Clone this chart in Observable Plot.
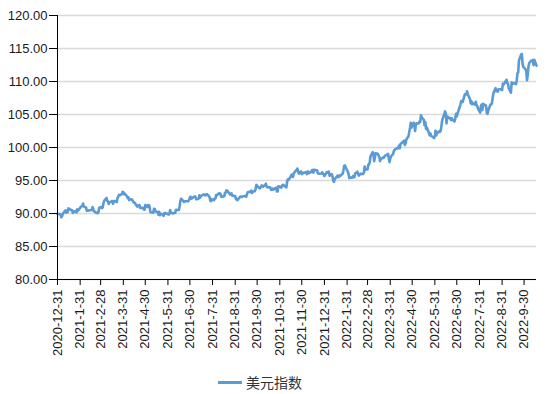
<!DOCTYPE html>
<html>
<head>
<meta charset="utf-8">
<script src="https://cdn.jsdelivr.net/npm/d3@7"></script>
<script src="https://cdn.jsdelivr.net/npm/@observablehq/plot@0.6"></script>
<style>
  html, body { margin: 0; padding: 0; background: #fff; }
  #wrap { position: relative; width: 550px; height: 394px; }
  #legend { position: absolute; left: 218px; top: 372px; height: 20px; display: flex; align-items: center;
    font-family: "Noto Sans CJK SC", sans-serif; font-size: 14px; color: #333; }
  #legend .sw { width: 24px; height: 3px; background: #5B9BD5; margin-right: 4px; }
</style>
</head>
<body>
<div id="wrap"><div id="chart"></div><div id="legend"><span class="sw"></span><span>美元指数</span></div></div>
<script>
const seriesName = "美元指数";
const yTicks = [80, 85, 90, 95, 100, 105, 110, 115, 120];
const xTickLabels = ["2020-12-31","2021-01-31","2021-02-28","2021-03-31","2021-04-30","2021-05-31","2021-06-30","2021-07-31","2021-08-31","2021-09-30","2021-10-31","2021-11-30","2021-12-31","2022-01-31","2022-02-28","2022-03-31","2022-04-30","2022-05-31","2022-06-30","2022-07-31","2022-08-31","2022-09-30"];
const xDomain = ["2020-12-31", "2022-10-17"];

const dates = [
"2020-12-31","2021-01-04","2021-01-05","2021-01-06","2021-01-07","2021-01-08","2021-01-11","2021-01-12","2021-01-13","2021-01-14","2021-01-15","2021-01-19","2021-01-20","2021-01-21","2021-01-22","2021-01-25","2021-01-26","2021-01-27","2021-01-28","2021-01-29",
"2021-02-01","2021-02-02","2021-02-03","2021-02-04","2021-02-05","2021-02-08","2021-02-09","2021-02-10","2021-02-11","2021-02-12","2021-02-16","2021-02-17","2021-02-18","2021-02-19","2021-02-22","2021-02-23","2021-02-24","2021-02-25","2021-02-26",
"2021-03-01","2021-03-02","2021-03-03","2021-03-04","2021-03-05","2021-03-08","2021-03-09","2021-03-10","2021-03-11","2021-03-12","2021-03-15","2021-03-16","2021-03-17","2021-03-18","2021-03-19","2021-03-22","2021-03-23","2021-03-24","2021-03-25","2021-03-26","2021-03-29","2021-03-30","2021-03-31",
"2021-04-01","2021-04-02","2021-04-05","2021-04-06","2021-04-07","2021-04-08","2021-04-09","2021-04-12","2021-04-13","2021-04-14","2021-04-15","2021-04-16","2021-04-19","2021-04-20","2021-04-21","2021-04-22","2021-04-23","2021-04-26","2021-04-27","2021-04-28","2021-04-29","2021-04-30",
"2021-05-03","2021-05-04","2021-05-05","2021-05-06","2021-05-07","2021-05-10","2021-05-11","2021-05-12","2021-05-13","2021-05-14","2021-05-17","2021-05-18","2021-05-19","2021-05-20","2021-05-21","2021-05-24","2021-05-25","2021-05-26","2021-05-27","2021-05-28",
"2021-06-01","2021-06-02","2021-06-03","2021-06-04","2021-06-07","2021-06-08","2021-06-09","2021-06-10","2021-06-11","2021-06-14","2021-06-15","2021-06-16","2021-06-17","2021-06-18","2021-06-21","2021-06-22","2021-06-23","2021-06-24","2021-06-25","2021-06-28","2021-06-29","2021-06-30",
"2021-07-01","2021-07-02","2021-07-06","2021-07-07","2021-07-08","2021-07-09","2021-07-12","2021-07-13","2021-07-14","2021-07-15","2021-07-16","2021-07-19","2021-07-20","2021-07-21","2021-07-22","2021-07-23","2021-07-26","2021-07-27","2021-07-28","2021-07-29","2021-07-30",
"2021-08-02","2021-08-03","2021-08-04","2021-08-05","2021-08-06","2021-08-09","2021-08-10","2021-08-11","2021-08-12","2021-08-13","2021-08-16","2021-08-17","2021-08-18","2021-08-19","2021-08-20","2021-08-23","2021-08-24","2021-08-25","2021-08-26","2021-08-27","2021-08-30","2021-08-31",
"2021-09-01","2021-09-02","2021-09-03","2021-09-07","2021-09-08","2021-09-09","2021-09-10","2021-09-13","2021-09-14","2021-09-15","2021-09-16","2021-09-17","2021-09-20","2021-09-21","2021-09-22","2021-09-23","2021-09-24","2021-09-27","2021-09-28","2021-09-29","2021-09-30",
"2021-10-01","2021-10-04","2021-10-05","2021-10-06","2021-10-07","2021-10-08","2021-10-11","2021-10-12","2021-10-13","2021-10-14","2021-10-15","2021-10-18","2021-10-19","2021-10-20","2021-10-21","2021-10-22","2021-10-25","2021-10-26","2021-10-27","2021-10-28","2021-10-29",
"2021-11-01","2021-11-02","2021-11-03","2021-11-04","2021-11-05","2021-11-08","2021-11-09","2021-11-10","2021-11-11","2021-11-12","2021-11-15","2021-11-16","2021-11-17","2021-11-18","2021-11-19","2021-11-22","2021-11-23","2021-11-24","2021-11-26","2021-11-29","2021-11-30",
"2021-12-01","2021-12-02","2021-12-03","2021-12-06","2021-12-07","2021-12-08","2021-12-09","2021-12-10","2021-12-13","2021-12-14","2021-12-15","2021-12-16","2021-12-17","2021-12-20","2021-12-21","2021-12-22","2021-12-23","2021-12-24","2021-12-27","2021-12-28","2021-12-29","2021-12-30","2021-12-31",
"2022-01-03","2022-01-04","2022-01-05","2022-01-06","2022-01-07","2022-01-10","2022-01-11","2022-01-12","2022-01-13","2022-01-14","2022-01-18","2022-01-19","2022-01-20","2022-01-21","2022-01-24","2022-01-25","2022-01-26","2022-01-27","2022-01-28","2022-01-31",
"2022-02-01","2022-02-02","2022-02-03","2022-02-04","2022-02-07","2022-02-08","2022-02-09","2022-02-10","2022-02-11","2022-02-14","2022-02-15","2022-02-16","2022-02-17","2022-02-18","2022-02-22","2022-02-23","2022-02-24","2022-02-25","2022-02-28",
"2022-03-01","2022-03-02","2022-03-03","2022-03-04","2022-03-07","2022-03-08","2022-03-09","2022-03-10","2022-03-11","2022-03-14","2022-03-15","2022-03-16","2022-03-17","2022-03-18","2022-03-21","2022-03-22","2022-03-23","2022-03-24","2022-03-25","2022-03-28","2022-03-29","2022-03-30","2022-03-31",
"2022-04-01","2022-04-04","2022-04-05","2022-04-06","2022-04-07","2022-04-08","2022-04-11","2022-04-12","2022-04-13","2022-04-14","2022-04-18","2022-04-19","2022-04-20","2022-04-21","2022-04-22","2022-04-25","2022-04-26","2022-04-27","2022-04-28","2022-04-29",
"2022-05-02","2022-05-03","2022-05-04","2022-05-05","2022-05-06","2022-05-09","2022-05-10","2022-05-11","2022-05-12","2022-05-13","2022-05-16","2022-05-17","2022-05-18","2022-05-19","2022-05-20","2022-05-23","2022-05-24","2022-05-25","2022-05-26","2022-05-27","2022-05-30","2022-05-31",
"2022-06-01","2022-06-02","2022-06-03","2022-06-06","2022-06-07","2022-06-08","2022-06-09","2022-06-10","2022-06-13","2022-06-14","2022-06-15","2022-06-16","2022-06-17","2022-06-20","2022-06-21","2022-06-22","2022-06-23","2022-06-24","2022-06-27","2022-06-28","2022-06-29","2022-06-30",
"2022-07-01","2022-07-05","2022-07-06","2022-07-07","2022-07-08","2022-07-11","2022-07-12","2022-07-13","2022-07-14","2022-07-15","2022-07-18","2022-07-19","2022-07-20","2022-07-21","2022-07-22","2022-07-25","2022-07-26","2022-07-27","2022-07-28","2022-07-29",
"2022-08-01","2022-08-02","2022-08-03","2022-08-04","2022-08-05","2022-08-08","2022-08-09","2022-08-10","2022-08-11","2022-08-12","2022-08-15","2022-08-16","2022-08-17","2022-08-18","2022-08-19","2022-08-22","2022-08-23","2022-08-24","2022-08-25","2022-08-26","2022-08-29","2022-08-30","2022-08-31",
"2022-09-01","2022-09-02","2022-09-06","2022-09-07","2022-09-08","2022-09-09","2022-09-12","2022-09-13","2022-09-14","2022-09-15","2022-09-16","2022-09-19","2022-09-20","2022-09-21","2022-09-22","2022-09-23","2022-09-26","2022-09-27","2022-09-28","2022-09-29","2022-09-30",
"2022-10-03","2022-10-04","2022-10-05","2022-10-06","2022-10-07","2022-10-10","2022-10-11","2022-10-12","2022-10-13","2022-10-14","2022-10-17"
];
const dxy = [
89.94,89.88,89.44,89.53,89.83,90.10,90.48,90.11,90.37,90.23,90.77,90.51,90.48,90.09,90.23,90.39,90.15,90.62,90.43,90.58,
91.01,91.09,91.12,91.52,91.04,90.93,90.43,90.42,90.42,90.48,90.52,90.96,90.61,90.36,90.09,90.14,90.05,90.18,90.88,
90.99,90.81,90.97,91.65,91.95,92.35,91.93,91.82,91.44,91.67,91.85,91.89,91.47,91.87,91.90,91.72,92.33,92.51,92.82,92.76,92.95,93.29,93.23,
92.92,93.02,92.61,92.33,92.46,92.03,92.17,92.13,91.87,91.69,91.69,91.56,91.05,91.19,91.14,91.29,90.85,90.86,90.83,90.61,90.58,91.28,
90.97,91.28,91.28,90.97,90.22,90.12,90.15,90.72,90.68,90.31,90.22,89.83,90.27,89.75,89.99,89.82,89.63,90.04,90.10,90.03,
89.85,89.91,90.52,90.14,90.01,90.08,90.09,90.09,90.56,90.52,90.53,91.10,91.89,92.23,91.91,91.76,91.81,91.84,91.85,91.88,92.08,92.44,
92.56,92.23,92.55,92.61,92.40,92.14,92.24,92.77,92.39,92.66,92.69,92.89,92.82,92.75,92.78,92.95,92.65,92.47,91.94,91.86,92.18,
92.02,92.28,92.27,92.80,92.78,93.06,93.07,92.94,92.53,92.53,92.62,93.14,93.15,93.50,93.47,93.04,92.85,92.99,93.06,92.69,92.67,92.63,
92.18,92.21,92.03,92.58,92.54,92.51,92.58,92.66,92.62,92.51,92.86,93.20,93.28,93.24,93.47,93.10,93.33,93.38,93.78,94.36,94.23,
94.04,93.81,94.03,94.23,94.22,94.07,94.31,94.51,94.08,93.96,94.00,93.94,93.60,93.57,93.76,93.63,93.84,93.93,93.35,93.33,94.12,
94.05,93.91,94.14,94.35,94.32,94.01,93.96,94.85,95.16,95.13,95.59,95.88,95.81,95.54,96.07,96.53,96.52,96.81,96.04,96.37,95.99,
96.02,96.15,96.15,96.28,95.97,96.34,96.34,96.10,96.31,96.55,96.60,96.18,96.63,96.55,96.53,96.10,96.05,96.02,96.07,96.25,95.98,95.97,95.67,
96.23,96.28,96.20,96.36,95.72,95.97,95.64,94.98,94.80,95.17,95.75,95.51,95.76,95.64,95.94,96.03,96.56,97.24,97.28,96.55,
96.34,95.99,95.38,95.47,95.44,95.65,95.50,95.50,96.06,96.33,95.99,95.74,95.86,96.02,96.00,96.17,97.12,96.61,96.71,
97.40,97.40,97.78,98.66,99.29,99.07,97.93,98.49,99.13,99.05,98.78,98.60,97.94,98.23,98.49,98.43,98.64,98.77,98.79,99.04,98.42,97.79,98.31,
98.63,99.03,99.49,99.62,99.74,99.80,99.93,100.29,99.88,100.52,100.91,101.04,100.39,100.65,101.21,101.70,102.33,102.97,103.74,103.00,
103.76,103.46,102.50,103.56,103.67,103.66,103.93,103.89,104.88,104.56,104.20,103.33,103.87,102.81,103.03,102.15,101.84,102.11,101.80,101.67,101.43,101.76,
102.55,101.83,102.18,102.44,102.37,102.53,103.24,104.15,105.07,105.47,105.14,103.66,104.70,104.45,104.45,104.17,104.43,104.22,103.94,104.45,105.10,104.69,
105.13,106.50,107.04,107.01,106.89,108.06,108.05,108.03,108.53,108.08,107.35,106.69,107.02,106.57,106.73,106.47,106.93,106.45,106.26,105.90,
105.28,106.27,106.50,105.68,106.61,106.38,106.36,105.20,105.09,105.60,106.50,106.50,106.66,107.53,108.17,108.99,108.54,108.58,108.48,108.82,108.82,108.78,108.70,
109.67,109.53,110.26,109.75,109.69,108.99,108.32,109.83,109.62,109.67,109.76,109.59,110.20,111.27,111.36,113.19,114.11,114.16,112.63,112.19,112.12,
111.67,110.18,111.06,112.24,112.80,113.16,113.18,113.25,112.48,113.29,112.40
];

const parse = d3.utcParse("%Y-%m-%d");
const data = dates.map((d, i) => ({date: parse(d), value: dxy[i], series: seriesName}));
const xTicks = xTickLabels.map(parse);

const chart = Plot.plot({
  width: 550,
  height: 362,
  marginTop: 15,
  marginLeft: 57,
  marginRight: 14,
  marginBottom: 83,
  style: {fontFamily: "'Liberation Sans', Arial, sans-serif", fontSize: "13px", color: "#1a1a1a", background: "#fff"},
  x: {type: "utc", domain: xDomain.map(parse), label: null},
  y: {domain: [80, 120], label: null},
  marks: [
    Plot.gridY(yTicks, {stroke: "#d9d9d9", strokeOpacity: 1, strokeWidth: 1.4}),
    Plot.lineY(data, {x: "date", y: "value", stroke: "#5B9BD5", strokeWidth: 2.6, strokeLinejoin: "round"}),
    Plot.ruleX([parse(xDomain[0])], {stroke: "#000", strokeWidth: 1}),
    Plot.ruleY([80], {stroke: "#000", strokeWidth: 1}),
    Plot.axisY(yTicks, {tickFormat: d => d.toFixed(2), tickSize: 8, tickPadding: 2, stroke: "#000", label: null}),
    Plot.axisX(xTicks, {tickRotate: -90, tickFormat: d3.utcFormat("%Y-%-m-%-d"), tickSize: 6, tickPadding: 4, stroke: "#000", label: null})
  ]
});
document.getElementById("chart").appendChild(chart);
</script>
</body>
</html>
